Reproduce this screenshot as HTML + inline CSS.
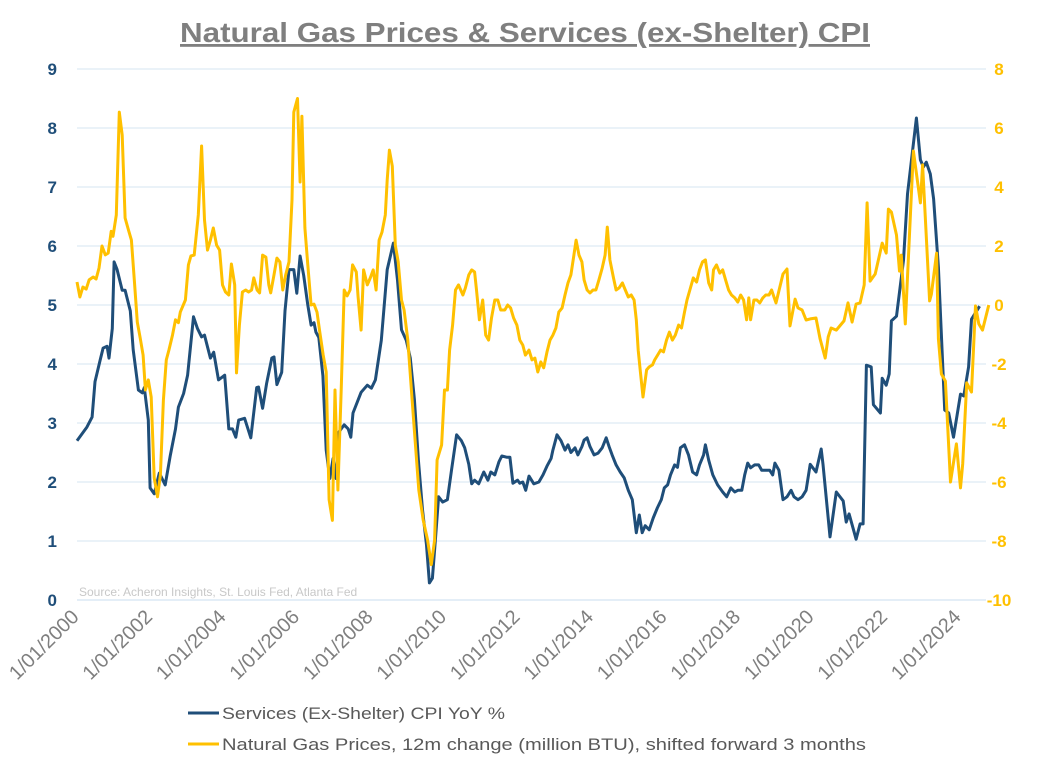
<!DOCTYPE html>
<html><head><meta charset="utf-8"><style>
html,body{margin:0;padding:0;background:#fff;}
svg{display:block;font-family:"Liberation Sans",Arial,sans-serif;}
</style></head><body>
<svg id="chart" width="1051" height="767" viewBox="0 0 1051 767">
<text x="525" y="42" text-anchor="middle" font-size="28" font-weight="bold" fill="#7f7f7f" text-decoration="underline" textLength="690" lengthAdjust="spacingAndGlyphs">Natural Gas Prices &amp; Services (ex-Shelter) CPI</text>
<g id="grid"></g><g id="series"></g><g id="axes"></g>
<text x="79" y="596" font-size="12" fill="#c8c8c8">Source: Acheron Insights, St. Louis Fed, Atlanta Fed</text>
<g>
<line x1="188" y1="713" x2="219" y2="713" stroke="#1f4e79" stroke-width="3"/>
<text x="222" y="719" font-size="17" fill="#595959" textLength="283" lengthAdjust="spacingAndGlyphs">Services (Ex-Shelter) CPI YoY %</text>
<line x1="188" y1="744" x2="219" y2="744" stroke="#ffc000" stroke-width="3"/>
<text x="222" y="750" font-size="17" fill="#595959" textLength="644" lengthAdjust="spacingAndGlyphs">Natural Gas Prices, 12m change (million BTU), shifted forward 3 months</text>
</g>
</svg>
<script>
const leftTicks=[0,1,2,3,4,5,6,7,8,9];
const rightTicks=[-10,-8,-6,-4,-2,0,2,4,6,8];
const xTickYears=[2000,2002,2004,2006,2008,2010,2012,2014,2016,2018,2020,2022,2024];
const navyYears=[2000.0,2000.27,2000.41,2000.49,2000.63,2000.71,2000.82,2000.87,2000.96,2001.01,2001.09,2001.23,2001.31,2001.45,2001.53,2001.67,2001.78,2001.83,2001.94,2001.99,2002.1,2002.24,2002.4,2002.54,2002.68,2002.76,2002.9,2003.01,2003.17,2003.28,2003.39,2003.47,2003.63,2003.72,2003.85,2004.02,2004.13,2004.23,2004.32,2004.4,2004.56,2004.73,2004.89,2004.94,2005.05,2005.16,2005.3,2005.36,2005.44,2005.57,2005.66,2005.77,2005.9,2005.98,2006.07,2006.17,2006.28,2006.37,2006.45,2006.5,2006.58,2006.69,2006.78,2006.88,2006.97,2007.05,2007.13,2007.27,2007.38,2007.45,2007.51,2007.73,2007.9,2008.01,2008.12,2008.28,2008.44,2008.61,2008.72,2008.83,2008.96,2009.07,2009.18,2009.29,2009.4,2009.51,2009.59,2009.67,2009.75,2009.84,2009.95,2010.08,2010.19,2010.33,2010.46,2010.55,2010.66,2010.74,2010.82,2010.93,2011.07,2011.18,2011.26,2011.37,2011.48,2011.56,2011.69,2011.78,2011.86,2011.99,2012.05,2012.13,2012.21,2012.3,2012.43,2012.57,2012.68,2012.79,2012.9,2012.95,2013.06,2013.17,2013.28,2013.36,2013.44,2013.55,2013.63,2013.74,2013.8,2013.88,2013.96,2014.07,2014.18,2014.29,2014.4,2014.48,2014.56,2014.67,2014.78,2014.89,2015.0,2015.11,2015.22,2015.3,2015.38,2015.46,2015.57,2015.68,2015.79,2015.9,2015.98,2016.07,2016.15,2016.26,2016.34,2016.42,2016.53,2016.64,2016.75,2016.86,2016.94,2017.05,2017.1,2017.19,2017.3,2017.43,2017.57,2017.68,2017.79,2017.9,2017.98,2018.09,2018.17,2018.25,2018.33,2018.44,2018.55,2018.63,2018.74,2018.85,2018.93,2018.99,2019.1,2019.21,2019.32,2019.43,2019.51,2019.62,2019.73,2019.84,2019.95,2020.11,2020.25,2020.3,2020.49,2020.66,2020.85,2020.93,2021.01,2021.2,2021.31,2021.39,2021.48,2021.61,2021.67,2021.86,2021.91,2022.02,2022.1,2022.16,2022.3,2022.49,2022.6,2022.84,2022.95,2023.03,2023.11,2023.22,2023.31,2023.44,2023.61,2023.72,2023.85,2024.04,2024.13,2024.26,2024.34,2024.56];
const navyValues=[2.7,2.93,3.1,3.7,4.07,4.27,4.3,4.1,4.6,5.73,5.6,5.25,5.25,4.9,4.24,3.56,3.51,3.6,3.05,1.9,1.8,2.15,1.95,2.45,2.9,3.27,3.5,3.81,4.8,4.6,4.46,4.49,4.1,4.2,3.73,3.81,2.9,2.9,2.76,3.05,3.08,2.75,3.6,3.61,3.25,3.67,4.1,4.12,3.65,3.86,4.9,5.6,5.6,5.2,5.83,5.5,5.0,4.66,4.7,4.54,4.45,3.8,2.54,2.06,2.4,2.06,2.85,2.97,2.9,2.76,3.17,3.52,3.64,3.59,3.73,4.4,5.6,6.05,5.42,4.58,4.4,4.1,3.4,2.37,1.53,0.93,0.29,0.37,1.0,1.75,1.66,1.7,2.2,2.8,2.7,2.58,2.3,1.97,2.03,1.97,2.17,2.03,2.17,2.12,2.34,2.44,2.42,2.42,1.98,2.03,1.98,2.0,1.86,2.1,1.97,2.0,2.12,2.27,2.4,2.54,2.8,2.7,2.54,2.63,2.5,2.58,2.46,2.6,2.71,2.75,2.6,2.46,2.49,2.58,2.75,2.6,2.46,2.29,2.17,2.07,1.86,1.7,1.14,1.44,1.14,1.26,1.19,1.39,1.56,1.7,1.9,1.95,2.12,2.29,2.25,2.58,2.63,2.46,2.17,2.12,2.29,2.46,2.63,2.37,2.12,1.95,1.83,1.75,1.9,1.83,1.86,1.86,2.12,2.32,2.24,2.29,2.29,2.2,2.2,2.2,2.12,2.32,2.2,1.7,1.75,1.86,1.75,1.7,1.75,1.86,2.3,2.17,2.56,2.3,1.07,1.83,1.68,1.32,1.46,1.03,1.29,1.29,3.98,3.95,3.31,3.17,3.76,3.64,3.83,4.73,4.81,5.76,6.88,8.17,7.46,7.34,7.42,7.22,6.8,5.64,3.22,3.17,2.76,3.49,3.46,3.95,4.76,4.98];
const gasYears=[2000.0,2000.08,2000.16,2000.25,2000.33,2000.44,2000.52,2000.6,2000.68,2000.77,2000.85,2000.93,2000.98,2001.07,2001.15,2001.23,2001.31,2001.4,2001.48,2001.56,2001.64,2001.72,2001.8,2001.86,2001.94,2002.02,2002.1,2002.19,2002.27,2002.35,2002.43,2002.5,2002.6,2002.68,2002.76,2002.81,2002.95,2003.03,2003.1,2003.19,2003.3,2003.39,2003.47,2003.55,2003.63,2003.71,2003.8,2003.88,2003.96,2004.04,2004.13,2004.2,2004.29,2004.34,2004.42,2004.5,2004.59,2004.67,2004.75,2004.81,2004.9,2004.97,2005.05,2005.14,2005.22,2005.27,2005.36,2005.44,2005.52,2005.6,2005.68,2005.77,2005.85,2005.9,2006.0,2006.07,2006.12,2006.2,2006.28,2006.37,2006.45,2006.53,2006.6,2006.7,2006.78,2006.86,2006.95,2007.02,2007.1,2007.19,2007.27,2007.35,2007.43,2007.5,2007.6,2007.65,2007.73,2007.8,2007.9,2007.98,2008.06,2008.14,2008.22,2008.3,2008.39,2008.44,2008.5,2008.58,2008.66,2008.74,2008.83,2008.9,2009.0,2009.1,2009.2,2009.3,2009.42,2009.54,2009.64,2009.73,2009.8,2009.92,2010.0,2010.08,2010.14,2010.22,2010.3,2010.38,2010.5,2010.57,2010.66,2010.74,2010.82,2010.87,2010.95,2011.04,2011.12,2011.2,2011.28,2011.37,2011.45,2011.53,2011.64,2011.72,2011.8,2011.88,2011.97,2012.05,2012.13,2012.2,2012.3,2012.38,2012.46,2012.54,2012.62,2012.7,2012.79,2012.87,2012.95,2013.03,2013.11,2013.2,2013.28,2013.36,2013.44,2013.52,2013.58,2013.66,2013.74,2013.8,2013.88,2013.96,2014.04,2014.12,2014.2,2014.29,2014.37,2014.43,2014.5,2014.6,2014.67,2014.75,2014.84,2014.92,2015.0,2015.08,2015.16,2015.22,2015.27,2015.33,2015.4,2015.5,2015.57,2015.66,2015.72,2015.8,2015.88,2015.96,2016.04,2016.12,2016.2,2016.28,2016.37,2016.45,2016.53,2016.6,2016.7,2016.77,2016.86,2016.94,2017.02,2017.1,2017.19,2017.27,2017.32,2017.4,2017.49,2017.57,2017.65,2017.73,2017.81,2017.9,2017.98,2018.06,2018.14,2018.22,2018.28,2018.33,2018.42,2018.5,2018.58,2018.66,2018.74,2018.83,2018.9,2019.02,2019.21,2019.32,2019.4,2019.54,2019.62,2019.73,2019.84,2019.95,2020.11,2020.22,2020.36,2020.44,2020.52,2020.66,2020.87,2020.98,2021.09,2021.2,2021.31,2021.42,2021.5,2021.58,2021.72,2021.91,2022.02,2022.08,2022.16,2022.3,2022.38,2022.43,2022.54,2022.76,2022.95,2023.01,2023.2,2023.25,2023.39,2023.44,2023.52,2023.63,2023.77,2023.93,2024.04,2024.1,2024.21,2024.34,2024.45,2024.54,2024.64,2024.81];
const gasValues=[0.78,0.27,0.61,0.54,0.85,0.95,0.88,1.25,2.0,1.7,1.76,2.5,2.33,3.05,6.54,5.76,2.95,2.54,2.2,0.85,-0.58,-1.12,-1.7,-2.88,-2.54,-3.12,-5.86,-6.5,-5.76,-3.22,-1.86,-1.53,-1.02,-0.5,-0.6,-0.24,0.17,1.36,1.66,1.69,3.05,5.39,2.88,1.86,2.2,2.61,2.03,1.86,0.68,0.44,0.34,1.39,0.68,-2.3,-0.68,0.44,0.51,0.44,0.51,0.92,0.51,0.41,1.69,1.62,0.68,0.41,1.02,1.59,1.46,0.51,1.02,1.46,3.56,6.54,7.0,4.17,6.4,2.61,1.36,0.0,0.03,-0.24,-0.85,-1.7,-2.27,-6.6,-7.3,-2.88,-6.27,-2.88,0.51,0.31,0.51,1.36,1.12,0.27,-0.85,1.19,0.68,0.92,1.19,0.51,2.2,2.47,3.05,4.24,5.25,4.71,2.03,1.46,0.17,-0.17,-1.19,-2.88,-4.58,-6.27,-7.29,-7.97,-8.8,-7.97,-5.25,-4.75,-2.88,-2.88,-1.53,-0.68,0.51,0.68,0.34,0.58,1.02,1.19,1.12,0.51,-0.5,0.17,-1.02,-1.19,-0.44,0.17,0.17,-0.17,-0.17,0.0,-0.1,-0.44,-0.68,-1.19,-1.36,-1.7,-1.53,-1.86,-1.8,-2.27,-1.93,-2.13,-1.59,-1.19,-1.02,-0.78,-0.24,-0.1,0.34,0.75,1.02,1.69,2.2,1.69,1.46,0.85,0.51,0.41,0.51,0.51,0.85,1.25,1.69,2.64,1.53,0.92,0.51,0.58,0.75,0.51,0.27,0.34,0.17,-0.5,-1.53,-2.27,-3.12,-2.2,-2.1,-2.03,-1.86,-1.7,-1.53,-1.59,-1.19,-0.92,-1.19,-1.02,-0.68,-0.78,-0.24,0.17,0.61,0.92,0.78,1.19,1.46,1.53,0.75,0.51,1.19,1.36,1.08,1.19,0.85,0.51,0.34,0.24,0.1,0.34,0.17,-0.5,0.24,-0.5,0.17,0.17,0.07,0.24,0.34,0.34,0.51,0.07,1.05,1.22,-0.71,0.2,-0.1,-0.17,-0.51,-0.47,-0.44,-1.15,-1.8,-1.08,-0.78,-0.85,-0.54,0.07,-0.58,0.03,0.07,0.68,3.46,0.81,1.05,2.1,1.76,3.25,3.15,2.37,1.15,1.69,-0.64,5.22,3.46,4.75,0.14,0.37,1.76,-1.15,-2.34,-2.58,-6.0,-4.71,-6.2,-5.39,-2.64,-2.95,-0.03,-0.64,-0.85,0.0];

const NS="http://www.w3.org/2000/svg";
const X0=77,X1=986,YT=69,YB=600;
function xS(yr){return X0+(yr-2000)*36.75;}
function yL(v){return YB-(v-0)/(9-0)*(YB-YT);}
function yR(v){return YB-(v+10)/18*(YB-YT);}
function mk(tag,attrs,parent){const e=document.createElementNS(NS,tag);for(const k in attrs)e.setAttribute(k,attrs[k]);parent.appendChild(e);return e;}
const grid=document.getElementById('grid'),axes=document.getElementById('axes'),series=document.getElementById('series');
leftTicks.forEach(t=>{
  const y=yL(t);
  const l=mk('line',{x1:X0,x2:X1,y1:y,y2:y,stroke:t===0?'#c9dcef':'#d6e4f2','stroke-width':1},grid);
  
  
  const tx=mk('text',{x:57,y:y+6,'text-anchor':'end','font-size':17,'font-weight':'bold',fill:'#1f4e79'},axes);
  tx.textContent=t;
  
  
});
rightTicks.forEach(t=>{
  const tx=mk('text',{x:999,y:yR(t)+6,'text-anchor':'middle','font-size':17,'font-weight':'bold',fill:'#ffc000'},axes);
  tx.textContent=t;
  
  
});
xTickYears.forEach(yr=>{
  const x=xS(yr)+3,y=618;
  const tx=mk('text',{x:x,y:y,'text-anchor':'end','font-size':20,fill:'#7f7f7f',transform:`rotate(-45 ${x} ${y})`},axes);
  tx.textContent='1/01/'+yr;
  
  
});
function path(xs,vs,yf,color,name){
  let d='';xs.forEach((yr,i)=>{d+=(i?'L':'M')+xS(yr).toFixed(1)+' '+yf(vs[i]).toFixed(1);});
  const p=mk('path',{d:d,fill:'none',stroke:color,'stroke-width':3,'stroke-linejoin':'round'},series);
  
  
}
path(navyYears,navyValues,yL,'#1f4e79','services-cpi-line');
path(gasYears,gasValues,yR,'#ffc000','natural-gas-line');
</script>
</body></html>
